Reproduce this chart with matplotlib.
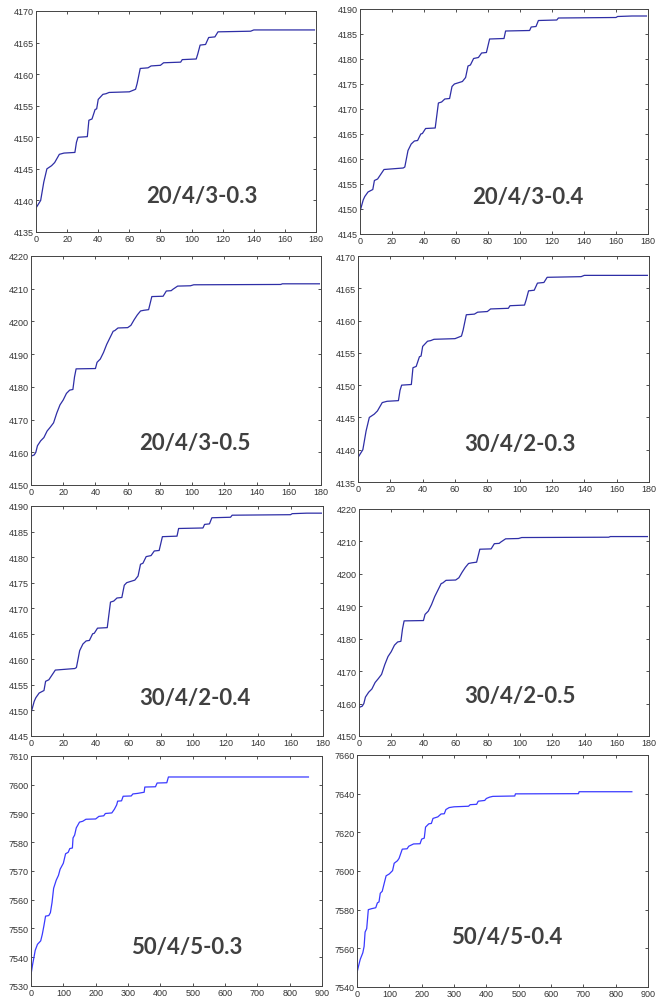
import matplotlib
matplotlib.use("Agg")
import matplotlib.pyplot as plt

W, H = 658, 1003

# series 0.3 (20/4/3 and 30/4/2 share the same curve)
x_03 = [0, 2, 3, 5, 7, 10, 12, 15, 18, 25, 26, 27, 33, 34, 36, 38, 39, 40, 43, 45, 47, 60, 64,
        65, 67, 72, 74, 80, 82, 93, 94, 103, 104, 105.5, 109, 111, 115, 117, 138, 140, 179]
y_03 = [4138.8, 4139.6, 4140, 4142.9, 4145, 4145.5, 4146, 4147.3, 4147.5, 4147.6, 4149.2, 4150,
        4150.1, 4152.7, 4152.9, 4154.4, 4154.5, 4156, 4156.8, 4156.9, 4157.1, 4157.2, 4157.6,
        4158.5, 4160.9, 4161, 4161.3, 4161.4, 4161.8, 4161.9, 4162.3, 4162.4, 4163.2, 4164.6,
        4164.7, 4165.8, 4165.9, 4166.7, 4166.8, 4167.0, 4167.0]

# series 0.4
x_04 = [0, 2, 3, 5, 8, 9, 11, 15, 27, 28, 30, 32, 34, 36, 38, 39, 41, 47, 49, 51, 53, 56, 57.5,
        59, 62, 64, 66, 67.5, 69, 71, 74, 76, 79, 81, 90, 91, 106, 107, 110, 111.5, 123, 124,
        160, 161, 170, 179]
y_04 = [4149.5, 4151.8, 4152.5, 4153.4, 4153.9, 4155.7, 4156.0, 4157.9, 4158.2, 4158.4, 4161.7,
        4163.0, 4163.6, 4163.7, 4165.0, 4165.1, 4166.1, 4166.2, 4171.2, 4171.4, 4172.0, 4172.1,
        4174.5, 4175.0, 4175.3, 4175.5, 4176.3, 4178.6, 4178.8, 4180.1, 4180.3, 4181.2, 4181.3,
        4184.0, 4184.1, 4185.6, 4185.7, 4186.4, 4186.5, 4187.7, 4187.8, 4188.2, 4188.3, 4188.5,
        4188.6, 4188.6]

# series 0.5
x_05 = [0, 2, 3, 4, 6, 8, 10, 12, 14, 16, 18, 20, 22, 24, 26, 27, 28, 40, 41, 43, 45, 47, 49,
        51, 52, 54, 60, 62, 64, 66, 68, 70, 73, 75, 82, 84, 87, 88, 91, 99, 101, 155, 156, 179]
y_05 = [4158.8, 4159.2, 4160, 4162, 4163.5, 4164.5, 4166.5, 4167.7, 4169, 4172, 4174.5, 4176,
        4178, 4179, 4179.2, 4183, 4185.5, 4185.6, 4187.5, 4188.5, 4190.5, 4193, 4195, 4197,
        4197.2, 4198, 4198.1, 4198.8, 4200.5, 4202, 4203.2, 4203.4, 4203.6, 4207.6, 4207.7,
        4209.3, 4209.4, 4209.8, 4210.8, 4210.9, 4211.2, 4211.3, 4211.5, 4211.5]

# 50/4/5-0.3
x_50a = [0, 5, 10, 13, 20, 30, 35, 40, 45, 55, 60, 65, 70, 78, 85, 90, 100, 107, 115, 120, 128,
         130, 135, 140, 150, 160, 170, 200, 210, 225, 230, 250, 258, 265, 268, 280, 285, 310,
         315, 330, 350, 352, 385, 390, 420, 425, 858]
y_50a = [7534, 7537.5, 7540.5, 7542.4, 7544.5, 7545.7, 7548, 7551, 7554.3, 7554.5, 7555.5,
         7559, 7564, 7566.8, 7568.5, 7570.6, 7572.7, 7576, 7576.5, 7577.8, 7578, 7581.5, 7582.5,
         7585, 7587, 7587.3, 7588, 7588.1, 7589, 7589.2, 7590, 7590.2, 7591.5, 7593, 7594.3,
         7594.4, 7596, 7596.1, 7596.8, 7597, 7597.4, 7599.2, 7599.3, 7600.6, 7600.7, 7602.7,
         7602.7]

# 50/4/5-0.4
x_50b = [0, 5, 10, 18, 22, 25, 30, 35, 45, 58, 63, 68, 72, 78, 85, 90, 100, 110, 115, 125, 130,
         140, 155, 160, 175, 195, 200, 208, 212, 222, 230, 235, 250, 260, 270, 275, 285, 300,
         345, 350, 370, 375, 395, 400, 410, 420, 488, 490, 685, 687, 850]
y_50b = [7547.4, 7551, 7554.3, 7557.7, 7561, 7568.4, 7570.2, 7580, 7580.5, 7581, 7583.5, 7584,
         7588.5, 7589.5, 7594.2, 7597.5, 7598.5, 7600.2, 7604, 7605.3, 7606.5, 7611.3, 7611.5,
         7612.8, 7614, 7614.1, 7616.5, 7617, 7622.7, 7624.4, 7624.6, 7627.2, 7628, 7629.5,
         7629.6, 7631.8, 7632.8, 7633.2, 7633.5, 7634.3, 7634.5, 7636.1, 7636.5, 7637.5,
         7638.2, 7638.6, 7638.8, 7639.9, 7640.0, 7641.0, 7641.0]

labels = ["20/4/3-0.3", "20/4/3-0.4", "20/4/3-0.5", "30/4/2-0.3",
          "30/4/2-0.4", "30/4/2-0.5", "50/4/5-0.3", "50/4/5-0.4"]
xs = [x_03, x_04, x_05, x_03, x_04, x_05, x_50a, x_50b]
ys = [y_03, y_04, y_05, y_03, y_04, y_05, y_50a, y_50b]
ylims = [(4135, 4170), (4145, 4190), (4150, 4220), (4135, 4170),
         (4145, 4190), (4150, 4220), (7530, 7610), (7540, 7660)]
ysteps = [5, 5, 10, 5, 5, 10, 10, 20]
xlims = [180, 180, 180, 180, 180, 180, 900, 900]
xsteps = [20, 20, 20, 20, 20, 20, 100, 100]

# axes boxes in pixels: left, top, right, bottom
boxes = [(36, 12, 316, 233), (360, 10, 648, 235), (31, 257, 321, 486), (358, 257, 649, 483),
         (31, 507, 323, 737), (359, 510, 649, 737), (31, 757, 322, 987), (357, 756, 648, 988)]
# label centres in pixels
label_pos = [(202, 197), (528, 198), (195, 444), (520, 445),
             (195, 698), (520, 697), (187, 948), (507, 938)]

fig = plt.figure(figsize=(W / 100, H / 100), dpi=100)

for i in range(8):
    l, t, r, b = boxes[i]
    ax = fig.add_axes([l / W, 1 - b / H, (r - l) / W, (b - t) / H])
    color = "#2e2ea6" if i < 6 else "#3a3aff"
    ax.plot(xs[i], ys[i], color=color, lw=0.9)
    ax.set_xlim(0, xlims[i])
    ax.set_ylim(*ylims[i])
    ax.set_xticks(range(0, xlims[i] + 1, xsteps[i]))
    ax.set_yticks(range(ylims[i][0], ylims[i][1] + 1, ysteps[i]))
    ax.tick_params(direction="in", length=2.5, width=0.6, labelsize=6.5, colors="#333333",
                   top=True, right=True, pad=1.5)
    for lab in ax.get_xticklabels() + ax.get_yticklabels():
        lab.set_family("Liberation Sans")
    for s in ax.spines.values():
        s.set_linewidth(0.7)
        s.set_color("#444444")
    cx, cy = label_pos[i]
    fig.text(cx / W, 1 - cy / H, labels[i], ha="center", va="center", fontsize=16,
             fontweight="bold", family="Lato", color="#404040")

fig.savefig("out.png", dpi=100)
